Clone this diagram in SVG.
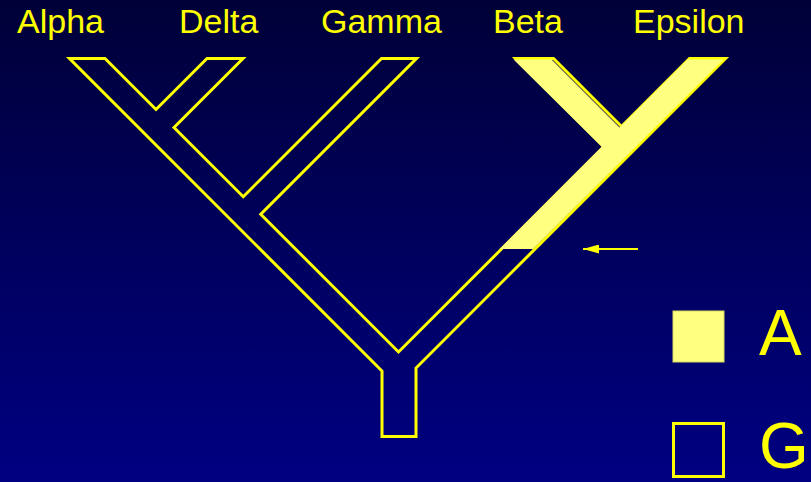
<svg xmlns="http://www.w3.org/2000/svg" width="811" height="482" viewBox="0 0 811 482">
  <defs>
    <linearGradient id="bg" x1="0" y1="0" x2="0" y2="1">
      <stop offset="0" stop-color="#000038"/>
      <stop offset="1" stop-color="#000082"/>
    </linearGradient>
    <marker id="arrowhead" viewBox="0 0 16 9" refX="16" refY="4.5" markerWidth="16" markerHeight="9" markerUnits="userSpaceOnUse" orient="auto">
      <polygon points="0,0 16,4.5 0,9" fill="#FFFF00"/>
    </marker>
  </defs>
  <style>
    .lbl { font-family: "Liberation Sans", Arial, sans-serif; font-size: 34px; fill: #FFFF00; }
    .big { font-family: "Liberation Sans", Arial, sans-serif; font-size: 64px; fill: #FFFF00; }
    .outline { fill: none; stroke: #FFFF00; stroke-width: 3; stroke-linejoin: miter; stroke-miterlimit: 10; }
    .filled { fill: #FFFF80; }
  </style>
  <rect x="0" y="0" width="811" height="482" fill="url(#bg)"/>

  <g id="labels">
    <text class="lbl" x="17" y="33">Alpha</text>
    <text class="lbl" x="179" y="33">Delta</text>
    <text class="lbl" x="321" y="33">Gamma</text>
    <text class="lbl" x="493" y="33">Beta</text>
    <text class="lbl" x="633" y="33">Epsilon</text>
  </g>

  <g id="tree">
    <polygon class="outline" points="69.5,58.5 105,58.5 156,109.5 207,58.5 243,58.5 174,127.5 243.25,196.75 381.5,58.5 416.5,58.5 260.75,214.25 398.5,352 603.75,146.75 515.5,58.5 553.5,58.5 621.5,126.5 689.5,58.5 725.5,58.5 416,368 416,436.5 382,436.5 382,371"/>
    <polygon id="beta-epsilon-fill" class="filled" points="499.5,249 601.75,146.75 513.5,59.5 551.5,59.5 619.5,127.5 687.5,59.5 723.5,59.5 533,249"/>
  </g>

  <g id="connectors">
    <line x1="638" y1="249" x2="583" y2="249" stroke="#FFFF00" stroke-width="2" marker-end="url(#arrowhead)"/>
  </g>

  <g id="legend">
    <g id="legend-A">
      <rect x="673" y="311" width="51" height="51" fill="#FFFF80" stroke="#D8D860" stroke-width="1"/>
      <text class="big" x="759" y="355">A</text>
    </g>
    <g id="legend-G">
      <rect x="673.5" y="423.5" width="50" height="53" fill="none" stroke="#FFFF00" stroke-width="3"/>
      <text class="big" x="759" y="468">G</text>
    </g>
  </g>
</svg>
